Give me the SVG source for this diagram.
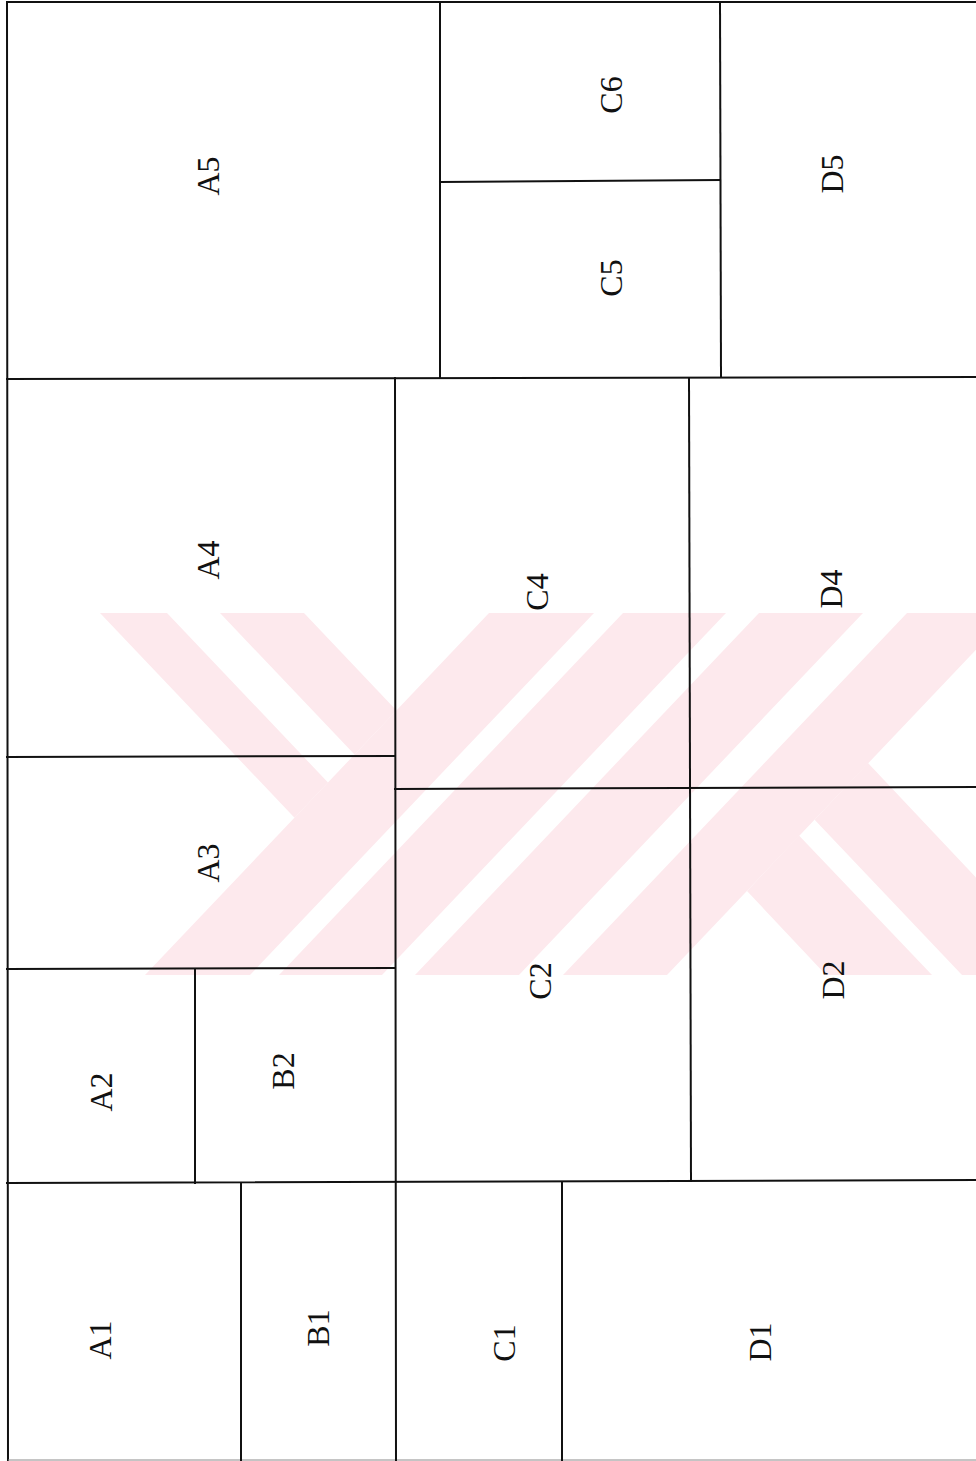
<svg xmlns="http://www.w3.org/2000/svg" width="976" height="1461" viewBox="0 0 976 1461">
  <style>
    .wall { stroke: #111; stroke-width: 2; fill: none; stroke-linecap: square; }
    .faint { stroke: #8a8a8a; stroke-width: 1; fill: none; }
    .wm { fill: #fde9ed; stroke: none; }
    .lbl { font-family: "Liberation Serif", "Times New Roman", serif; font-size: 32px; fill: #111; text-anchor: middle; dominant-baseline: central; }
  </style>
  <rect x="0" y="0" width="976" height="1461" fill="#ffffff"/>

  <g id="watermark">
    <polygon class="wm" points="100,613 167,613 328,782.5 294.5,817.7"/>
    <polygon class="wm" points="220,613 304,613 396.5,710.4 354.5,754.6"/>
    <polygon class="wm" points="145,975 250,975 594,613 489,613"/>
    <polygon class="wm" points="279,975 382,975 726,613 623,613"/>
    <polygon class="wm" points="415,975 519,975 863,613 759,613"/>
    <polygon class="wm" points="563,975 667,975 1011,613 907,613"/>
    <polygon class="wm" points="747,891 799,835.6 932,975 826,975"/>
    <polygon class="wm" points="814.6,819.8 868,763 1068,975 962,975"/>
  </g>

  <g id="partitions">
    <line class="wall" x1="7" y1="2" x2="976" y2="2"/>
    <line class="wall" x1="7" y1="2" x2="8" y2="1461"/>
    <line class="faint" x1="8" y1="1460" x2="976" y2="1460"/>
    <line class="wall" x1="7" y1="379" x2="976" y2="377"/>
    <line class="wall" x1="440" y1="2" x2="440" y2="378"/>
    <line class="wall" x1="440" y1="182" x2="720" y2="180"/>
    <line class="wall" x1="720" y1="2" x2="721" y2="377"/>
    <line class="wall" x1="395" y1="378" x2="396" y2="1461"/>
    <line class="wall" x1="7" y1="757" x2="395" y2="756"/>
    <line class="wall" x1="689" y1="378" x2="691" y2="1181"/>
    <line class="wall" x1="395" y1="789" x2="976" y2="787"/>
    <line class="wall" x1="7" y1="969" x2="395" y2="968"/>
    <line class="wall" x1="195" y1="969" x2="195" y2="1183"/>
    <line class="wall" x1="7" y1="1183" x2="976" y2="1180"/>
    <line class="wall" x1="241" y1="1183" x2="241" y2="1461"/>
    <line class="wall" x1="562" y1="1182" x2="562" y2="1461"/>
  </g>

  <g id="A5"><text class="lbl" transform="translate(208,176) rotate(-90)">A5</text></g>
  <g id="C6"><text class="lbl" transform="translate(611,95) rotate(-90)">C6</text></g>
  <g id="C5"><text class="lbl" transform="translate(611,278) rotate(-90)">C5</text></g>
  <g id="D5"><text class="lbl" transform="translate(832,174) rotate(-90)">D5</text></g>
  <g id="A4"><text class="lbl" transform="translate(208,560) rotate(-90)">A4</text></g>
  <g id="C4"><text class="lbl" transform="translate(537,592) rotate(-90)">C4</text></g>
  <g id="D4"><text class="lbl" transform="translate(831,589) rotate(-90)">D4</text></g>
  <g id="A3"><text class="lbl" transform="translate(208,863) rotate(-90)">A3</text></g>
  <g id="C2"><text class="lbl" transform="translate(540,981) rotate(-90)">C2</text></g>
  <g id="D2"><text class="lbl" transform="translate(833,980) rotate(-90)">D2</text></g>
  <g id="A2"><text class="lbl" transform="translate(101,1092) rotate(-90)">A2</text></g>
  <g id="B2"><text class="lbl" transform="translate(283,1071) rotate(-90)">B2</text></g>
  <g id="A1"><text class="lbl" transform="translate(100,1340) rotate(-90)">A1</text></g>
  <g id="B1"><text class="lbl" transform="translate(318,1328) rotate(-90)">B1</text></g>
  <g id="C1"><text class="lbl" transform="translate(504,1343) rotate(-90)">C1</text></g>
  <g id="D1"><text class="lbl" transform="translate(760,1342) rotate(-90)">D1</text></g>
</svg>
